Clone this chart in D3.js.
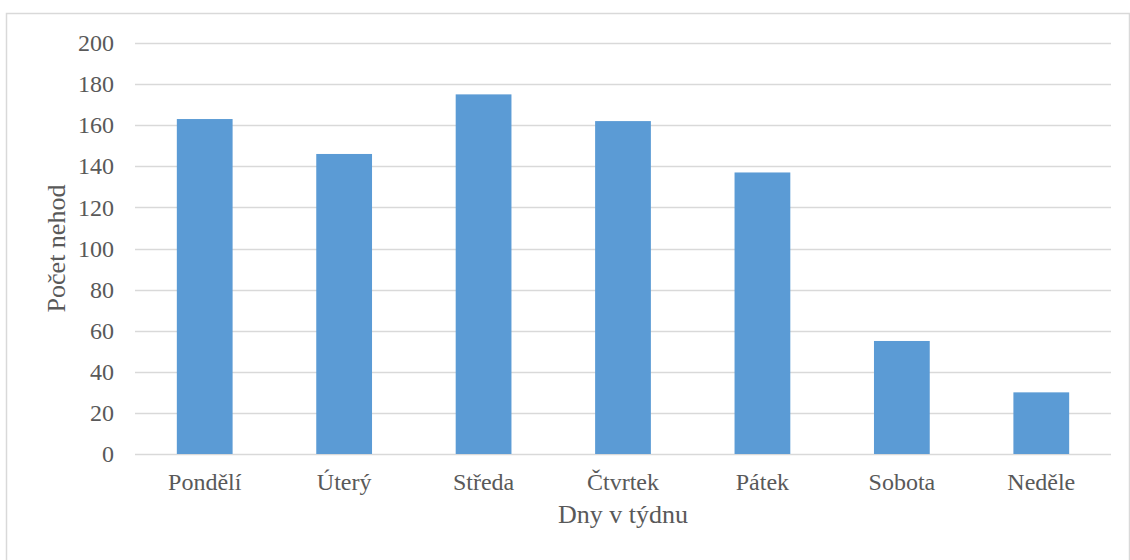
<!DOCTYPE html>
<html>

<head>
    <meta charset="UTF-8">
    <style>
        body { margin: 0; background: #fff; }
        svg { display: block; }
        text { font-family: "Liberation Serif", "Times New Roman", serif; fill: #595959; }
    </style>
</head>

<body>
    <svg></svg>
    <script src="https://d3js.org/d3.v7.min.js"></script>

    <script>
        const w = 1130;
        const h = 560;
        const margin = { top: 43, bottom: 106, left: 135, right: 19 };

        // data
        const days = ["Pondělí", "Úterý", "Středa", "Čtvrtek", "Pátek", "Sobota", "Neděle"];
        const accidents = [163, 146, 175, 162, 137, 55, 30];
        const yTicks = [0, 20, 40, 60, 80, 100, 120, 140, 160, 180, 200];

        const svg = d3.select("svg")
            .attr("width", w)
            .attr("height", h);

        // chart border
        svg.append("rect")
            .attr("x", 6.5)
            .attr("y", 13.5)
            .attr("width", 1123)
            .attr("height", 560)
            .attr("fill", "none")
            .attr("stroke", "#d9d9d9")
            .attr("stroke-width", 1.5);

        const x = d3.scaleBand()
            .domain(days)
            .range([margin.left, w - margin.right])
            .paddingInner(0.6)
            .paddingOuter(0.3);

        const y = d3.scaleLinear()
            .domain([0, 200])
            .range([h - margin.bottom, margin.top]);

        // gridlines
        svg.append("g")
            .selectAll("line")
            .data(yTicks)
            .join("line")
            .attr("x1", margin.left)
            .attr("x2", w - margin.right)
            .attr("y1", d => Math.round(y(d)) + 0.5)
            .attr("y2", d => Math.round(y(d)) + 0.5)
            .attr("stroke", "#d9d9d9")
            .attr("stroke-width", 1.5);

        // bars
        svg.append("g")
            .selectAll("rect")
            .data(accidents)
            .join("rect")
            .attr("x", (d, i) => x(days[i]))
            .attr("y", d => y(d))
            .attr("width", x.bandwidth())
            .attr("height", d => y(0) - y(d))
            .attr("fill", "#5b9bd5");

        // y axis labels
        const yAxis = d3.axisLeft(y)
            .tickValues(yTicks)
            .tickSize(0)
            .tickPadding(21);
        svg.append("g")
            .attr("transform", "translate(" + margin.left + ",0)")
            .call(yAxis)
            .call(g => g.select(".domain").remove())
            .selectAll("text")
            .attr("font-size", "24px")
            .attr("fill", "#595959")
            .attr("font-family", "Liberation Serif");

        // x axis labels
        const xAxis = d3.axisBottom(x)
            .tickSize(0)
            .tickPadding(19);
        svg.append("g")
            .attr("transform", "translate(0," + y(0) + ")")
            .call(xAxis)
            .call(g => g.select(".domain").remove())
            .selectAll("text")
            .attr("font-size", "24px")
            .attr("fill", "#595959")
            .attr("font-family", "Liberation Serif");

        // axis titles
        svg.append("text")
            .attr("x", (margin.left + w - margin.right) / 2)
            .attr("y", 523)
            .attr("text-anchor", "middle")
            .attr("font-size", "26px")
            .text("Dny v týdnu");

        svg.append("text")
            .attr("transform", "translate(65," + (y(0) + y(200)) / 2 + ") rotate(-90)")
            .attr("text-anchor", "middle")
            .attr("font-size", "26px")
            .text("Počet nehod");
    </script>

</body>

</html>
